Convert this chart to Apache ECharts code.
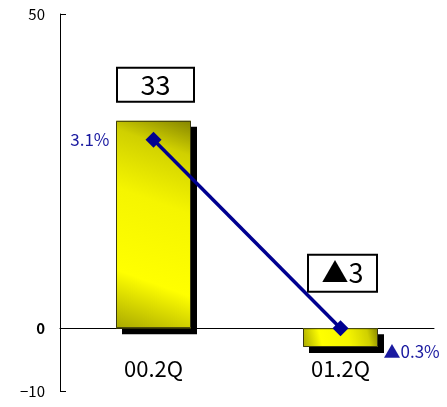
<!DOCTYPE html>
<html>
<head>
<meta charset="utf-8">
<script src="https://cdn.jsdelivr.net/npm/echarts@6/dist/echarts.min.js"></script>
<style>
  html, body { margin: 0; padding: 0; background: #fff; }
  #chart { width: 447px; height: 407px; }
</style>
</head>
<body>
<div id="chart"></div>
<script>
// データ
const categories = ['00.2Q', '01.2Q']
const amounts = [33, -3]          // 棒（左軸）
const rates = [3.1, -0.3]         // 折れ線（％）
const yTicks = [50, 0, -10]

const fontFamily = '"Noto Sans CJK JP", "Liberation Sans", sans-serif'
const tri = (v, suffix) => (v < 0 ? '▲' + Math.abs(v) : String(v)) + suffix

const barFill = new echarts.graphic.LinearGradient(0, 1, 1, 0, [
  { offset: 0, color: '#a8a800' },
  { offset: 0.25, color: '#ffff00' },
  { offset: 0.6, color: '#f5f500' },
  { offset: 0.85, color: '#d0d000' },
  { offset: 1, color: '#858500' },
])

// ラベル枠の大きさ
const boxSizes = [
  { width: 75, height: 32, offsetY: -31 },
  { width: 67, height: 35, offsetY: -50 },
]

const chart = echarts.init(document.getElementById('chart'))
chart.setOption({
  animation: false,
  textStyle: { fontFamily },
  grid: { left: 60, right: 13, top: 14, bottom: 16, outerBoundsMode: 'none' },
  xAxis: {
    type: 'category',
    data: categories,
    axisLine: { onZero: true, lineStyle: { color: '#000', width: 1 } },
    axisTick: { show: false },
    axisLabel: { color: '#000', fontSize: 22, margin: -33, fontFamily },
  },
  yAxis: [
    {
      type: 'value',
      min: -10,
      max: 50,
      interval: 10,
      splitLine: { show: false },
      axisLine: { show: true, lineStyle: { color: '#000', width: 1 } },
      axisTick: { show: true, inside: true, length: 6, customValues: [50, -10], lineStyle: { color: '#000' } },
      axisLabel: {
        customValues: yTicks,
        margin: 15,
        fontSize: 15,
        color: '#000',
        formatter: (v) => (v === 0 ? '{b|0}' : v < 0 ? '\u2212' + Math.abs(v) : String(v)),
        rich: { b: { fontWeight: 'bold', fontSize: 15, color: '#000' } },
      },
    },
    {
      type: 'value',
      min: -1.43,
      max: 5.37,
      show: false,
      splitLine: { show: false },
    },
  ],
  series: [
    {
      type: 'bar',
      barWidth: 75,
      data: amounts.map((v, i) => ({
        value: v,
        label: {
          show: true,
          position: 'top',
          offset: [2, boxSizes[i].offsetY],
          width: boxSizes[i].width,
          height: boxSizes[i].height,
          lineHeight: boxSizes[i].height,
          align: 'center',
          verticalAlign: 'middle',
          backgroundColor: '#fff',
          borderColor: '#000',
          borderWidth: 2,
          fontSize: 27,
          color: '#000',
          formatter: () => tri(v, ''),
        },
      })),
      itemStyle: {
        color: barFill,
        borderWidth: 0,
        shadowColor: '#000',
        shadowOffsetX: 6,
        shadowOffsetY: 6,
        shadowBlur: 0,
      },
    },
    {
      // 棒の枠線（影なし）
      type: 'bar',
      barWidth: 75,
      barGap: '-100%',
      silent: true,
      data: amounts,
      itemStyle: { color: 'rgba(0,0,0,0)', borderColor: '#3a3a10', borderWidth: 1 },
    },
    {
      type: 'line',
      yAxisIndex: 1,
      z: 5,
      data: rates.map((v, i) => ({
        value: v,
        label: i === 0
          ? { show: true, position: 'left', distance: 36, offset: [0, 0] }
          : { show: true, position: 'right', distance: 35, offset: [0, 23] },
      })),
      symbol: 'diamond',
      symbolSize: 16,
      lineStyle: { color: '#000090', width: 3.5 },
      itemStyle: { color: '#000090' },
      label: {
        fontSize: 17,
        color: '#1a1aa0',
        formatter: (p) => tri(p.value, '%'),
      },
    },
  ],
})
</script>
</body>
</html>
